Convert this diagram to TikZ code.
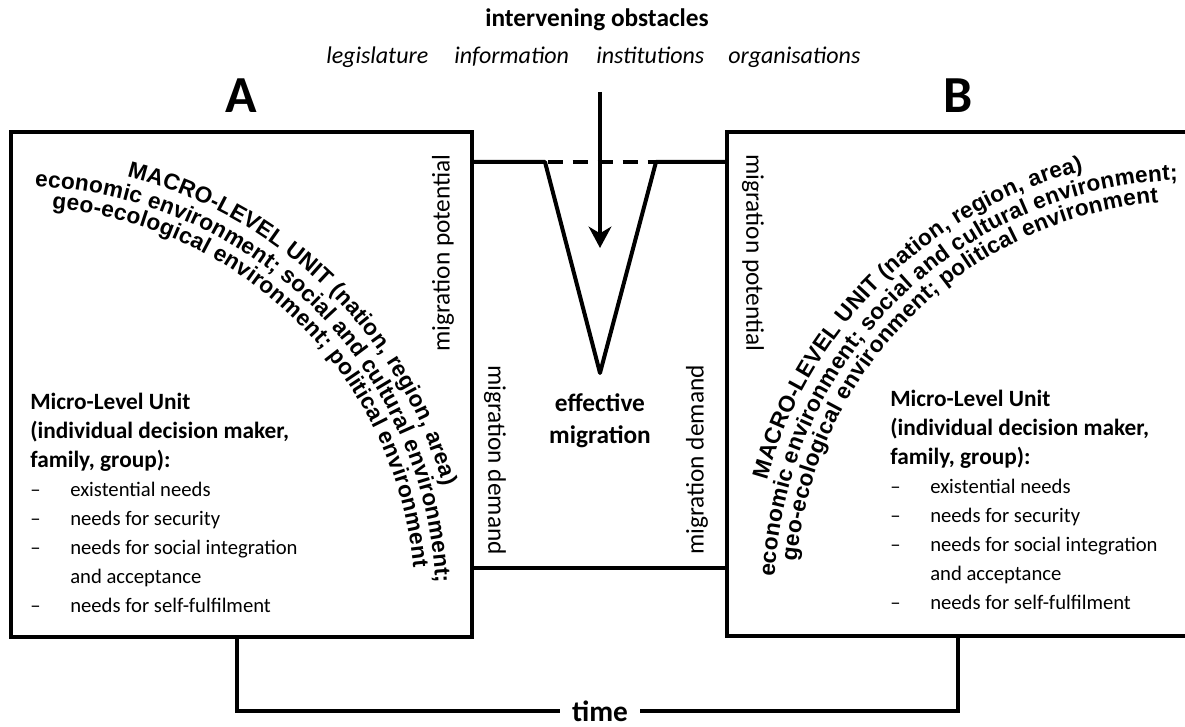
\documentclass[tikz,border=0pt]{standalone}
\usepackage{fontspec}
\setmainfont{Carlito}
\newfontfamily\arialfont{Liberation Sans}
\usetikzlibrary{calc,arrows.meta,decorations.text}
\newcommand\macrofont{\arialfont\bfseries\fontsize{17}{17}\selectfont}
\def\arctext[#1](#2)(#3:#4:#5)#6{\path[decorate, decoration={text effects along path, text={#6}, text effects/.cd, text along path, fit text to path, characters={#1}}] ($(#2)+({#5*cos(#3)},{#5*sin(#3)})$) arc (#3:#4:#5);}
\def\needitem#1{\makebox[30pt][l]{--}#1}
\tikzset{
  box/.style={line width=3pt},
  chan/.style={line width=3pt, line join=round},
  dashpat/.style={dash pattern=on 11.25pt off 7.5pt, dash phase=-1.875pt},
  bracket/.style={line width=2.4pt},
  obsarrow/.style={line width=3pt, -{Stealth[length=16pt,width=17pt,inset=5pt]}},
  headfont/.style={font=\bfseries\fontsize{19}{19}\selectfont, inner sep=0pt},
  obsfont/.style={font=\itshape\fontsize{18}{18}\selectfont, inner sep=0pt},
  letter/.style={font=\bfseries\fontsize{39}{39}\selectfont, inner sep=0pt},
  vlabel/.style={font=\fontsize{19}{19}\selectfont, inner sep=0pt},
  effect/.style={align=center, font=\bfseries\fontsize{19}{24}\selectfont, inner sep=0pt},
  microtext/.style={align=left, inner sep=0pt, font=\fontsize{15.5}{21.75}\selectfont},
  timelbl/.style={font=\bfseries\fontsize{22}{22}\selectfont, inner xsep=9pt, inner ysep=0pt},
}
\def\microhead#1{{\bfseries\fontsize{17.5}{21.75}\selectfont #1}}

\begin{document}
\begin{tikzpicture}[x=0.75pt, y=0.75pt]
			%%%%% START %%%%%
			\useasboundingbox (0,0) rectangle (1185,727);
			
			\node[headfont, anchor=base] (obst) at (597,700) {intervening obstacles};
			\node[obsfont, anchor=base west] (legis) at (326,663) {legislature};
			\node[obsfont, anchor=base west] (info) at (454,663) {information};
			\node[obsfont, anchor=base west] (inst) at (596,663) {institutions};
			\node[obsfont, anchor=base west] (orgs) at (728,663) {organisations};
			
			\node[letter, anchor=base] (lblA) at (241,614) {A};
			\node[letter, anchor=base] (lblB) at (958,614) {B};
			
			% the two regions
			\coordinate (aSW) at (11,90);
			\coordinate (aNE) at (472,595);
			\draw[box] (aSW) rectangle (aNE);
			
			\coordinate (bNE) at (1195,595);
			\coordinate (bNW) at (727,595);
			\coordinate (bSW) at (727,91);
			\coordinate (bSE) at (1195,91);
			\draw[box] (bNE) -- (bNW) -- (bSW) -- (bSE);
			
			% channel between A and B
			\coordinate (chTL) at (472,565);
			\coordinate (vL) at (545,565);
			\coordinate (vTip) at (600,354);
			\coordinate (vR) at (656,565);
			\coordinate (chTR) at (727,565);
			\coordinate (chBL) at (472,159);
			\coordinate (chBR) at (727,159);
			\draw[chan] (chTL) -- (vL) -- (vTip) -- (vR) -- (chTR);
			\draw[chan, dashpat] (vL) -- (vR);
			\draw[chan] (chBL) -- (chBR);
			
			\coordinate (arrTop) at (600,635);
			\coordinate (arrTip) at (600,479);
			\draw[obsarrow] (arrTop) -- (arrTip);
			
			\node[vlabel, rotate=90] (potA) at (443,474) {migration potential};
			\node[vlabel, rotate=-90] (potB) at (753,474) {migration potential};
			\node[vlabel, rotate=-90] (demL) at (495,267) {migration demand};
			\node[vlabel, rotate=90] (demR) at (697,267) {migration demand};
			\node[effect] (eff) at (600,306) {effective\\migration};
			
			% macro level, bent text
			\arctext[font=\macrofont, inner sep=0pt](18,123)(75.7:15.5:441){MACRO-LEVEL UNIT (nation, region, area)}
			\arctext[font=\macrofont, inner sep=0pt](18,123)(87.7:2.9:418){economic environment; social and cultural environment;}
			\arctext[font=\macrofont, inner sep=0pt](18,123)(85.1:5.3:397){geo-ecological environment; political environment}
			
			\arctext[font=\macrofont, inner sep=0pt](1192,129)(164.5:104.3:441){MACRO-LEVEL UNIT (nation, region, area)}
			\arctext[font=\macrofont, inner sep=0pt](1192,129)(177.1:92:418){economic environment; social and cultural environment;}
			\arctext[font=\macrofont, inner sep=0pt](1192,129)(174.7:94.9:397){geo-ecological environment; political environment}
			
			% micro level
			\node[microtext, anchor=north west] (microA) at (30,334) {\microhead{Micro-Level Unit}\\\microhead{(individual decision maker,}\\\microhead{family, group):}\\\needitem{existential needs}\\\needitem{needs for security}\\\needitem{needs for social integration}\\\hspace*{30pt}and acceptance\\\needitem{needs for self-fulfilment}};
			\node[microtext, anchor=north west] (microB) at (890,337) {\microhead{Micro-Level Unit}\\\microhead{(individual decision maker,}\\\microhead{family, group):}\\\needitem{existential needs}\\\needitem{needs for security}\\\needitem{needs for social integration}\\\hspace*{30pt}and acceptance\\\needitem{needs for self-fulfilment}};
			
			% time
			\node[timelbl] (time) at (600,16) {time};
			\coordinate (aFoot) at (237,90);
			\coordinate (bFoot) at (958,91);
			\draw[bracket] (aFoot) |- (time.west);
			\draw[bracket] (time.east) -| (bFoot);
			
			%%%%% END %%%%%
\end{tikzpicture}
\end{document}
